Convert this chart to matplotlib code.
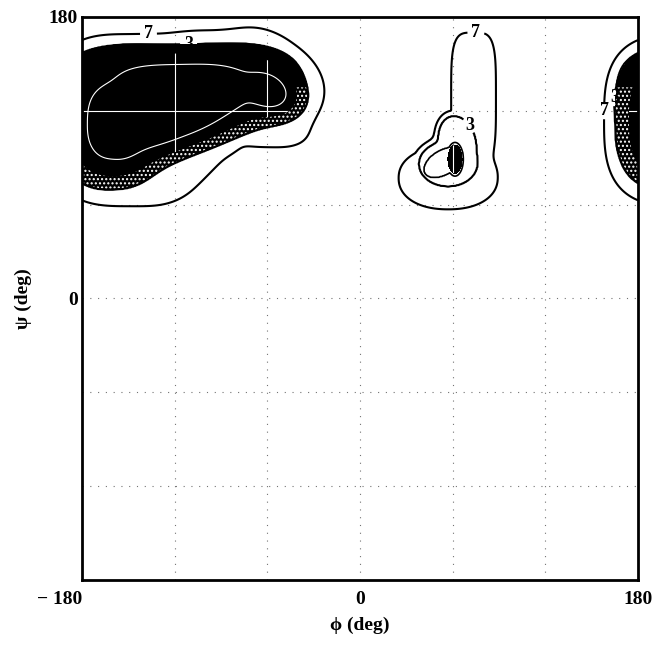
import numpy as np
import matplotlib
matplotlib.use("Agg")
import matplotlib.pyplot as plt
from matplotlib.patches import PathPatch

plt.rcParams['font.family'] = ['Liberation Serif', 'DejaVu Serif']
plt.rcParams['hatch.color'] = 'white'
plt.rcParams['hatch.linewidth'] = 1.0

# energy map rebuilt from wells (phi, psi in degrees)
# group 0 = deep basin (3 line), 1 = rim (7 line), 2 = beta 3 line, 3 = beta 2 line, 4 = beta core
well_phi  = [-120, -160, -116, -60,   -150, -60, -58, -95, -107, -95, 73.5, 57, 53,   57, 63,   54,   61.5]
well_psi  = [ 117,  112,  136, 133,    114, 138, 112, 115,   89, 145, 128,  77, 96,   86, 100,  87,   89]
half_phi  = [  68,   30,   72,  23,     52,  38,  24,  25,   30,  40, 14.5, 32, 20,   19, 12,   14,   6.6]
half_psi  = [  28,   40,   26,  17,     55,  30,  15,  25,   12,  26, 42,   20,  9, 14.5, 17,    8,  13.2]
tilt      = [20.6,    0,    0, -25,      0, -35,   0,   0,   40,   0,  0,    0, 47,    0, 15,   30,    0]
shape     = [ 2.5,  2.5,    3,   2,      3, 2.3,   3,   2,    2, 2.5,  4,  2.2,  2,    2,  2,    2,    2]
group     = [   0,    0,    0,   0,      1,   1,   1,   1,    1,   1,  1,    1,  1,    2,  2,    3,    4]

grp_floor = [0, 3.5, 2.9, 1.5, 0]
grp_edge  = [3, 7, 3, 2, 3]
grp_qin   = [3, 2, 2, 2, 2]
grp_qout  = [12, 2, 20, 30, 30]
grp_blend = [0.2, 0.12, 0.12, 0.12, 0.12]

line_levels = [3, 7]
lab_pos = [(-137, 171), (75, 167), (157, 120), (-111, 163), (69, 109), (171, 128)]

phi = np.linspace(-180, 180, 721)
psi = np.linspace(-180, 180, 721)
PHI, PSI = np.meshgrid(phi, psi)


def radius(i):
    dx = (PHI - well_phi[i] + 180) % 360 - 180
    dy = PSI - well_psi[i]
    t = np.radians(tilt[i])
    u = dx * np.cos(t) + dy * np.sin(t)
    v = -dx * np.sin(t) + dy * np.cos(t)
    m = shape[i]
    return (np.abs(u / half_phi[i]) ** m + np.abs(v / half_psi[i]) ** m) ** (1 / m)


def smin(stack, k):
    lo = stack.min(axis=0)
    return lo - k * np.log(np.exp(-(stack - lo) / k).sum(axis=0))


layers = []
for g in range(len(grp_floor)):
    rs = np.array([radius(i) for i in range(len(well_phi)) if group[i] == g])
    r = smin(rs, grp_blend[g])
    q = np.where(r < 1, grp_qin[g], grp_qout[g])
    layers.append(grp_floor[g] + (grp_edge[g] - grp_floor[g]) * r ** q)
layers.append(np.full_like(PHI, 12.0))
E = smin(np.array(layers), 0.1)

fig = plt.figure(figsize=(6.62, 6.45), dpi=100)
ax = fig.add_axes([0.1239, 0.1008, 0.8399, 0.8729])

grid = [-120, -60, 0, 60, 120]
for g in grid:
    ax.axvline(g, color='0.45', lw=0.8, ls=(0, (1, 6)), zorder=0.5)
    ax.axhline(g, color='0.45', lw=0.8, ls=(0, (1, 6)), zorder=0.5)

# dark shading: whole basin up to just under 3, only the core in the beta region
mid = (PHI > 0) & (PHI < 140)
shade = np.where(mid & (E > 1.4), 10, E)
ax.contourf(PHI, PSI, shade, levels=[-1, 2.85], colors='black', zorder=1)
inner = ax.contourf(PHI, PSI, E, levels=[-1, 1.4], colors='black', zorder=1)
# speckled band on the lower side of the basin
ax.contourf(PHI, PSI, np.ma.masked_where(mid | (PSI > 135), E), levels=[1.4, 2.85],
            colors='none', hatches=['....'], zorder=1.5)
ax.contour(PHI, PSI, np.ma.masked_where(PHI > 0, E), levels=[0.4], colors='white',
           linewidths=0.8, zorder=2)

clip = PathPatch(inner.get_paths()[0], transform=ax.transData)
for g in grid:
    for ln in (ax.axvline(g, color='white', lw=0.8, zorder=2),
               ax.axhline(g, color='white', lw=0.8, zorder=2)):
        ln.set_clip_path(clip)

cs = ax.contour(PHI, PSI, E, levels=line_levels, colors='black', linewidths=1.5, zorder=3)
box = (PHI > 20) & (PHI < 100) & (PSI > 60) & (PSI < 115)
ax.contour(PHI, PSI, np.ma.masked_where(~box, E), levels=[2], colors='black',
           linewidths=1.2, zorder=3)
txt = ax.clabel(cs, fmt='%d', fontsize=13, manual=lab_pos, inline=True, inline_spacing=4)
for t in txt:
    t.set_fontweight('bold')
    t.set_rotation(0)

ax.set_xlim(-180, 180)
ax.set_ylim(-180, 180)
ax.set_xticks([-180, 0, 180])
ax.set_xticklabels(['\u2212 180', '0', '180'], fontweight='bold')
ax.set_yticks([0, 180])
ax.set_yticklabels(['0', '180'], fontweight='bold')
ax.get_xticklabels()[0].set_horizontalalignment('right')
ax.tick_params(length=0, labelsize=14)
ax.tick_params(axis='x', pad=8)
ax.tick_params(axis='y', pad=3)
for s in ax.spines.values():
    s.set_linewidth(2.0)

ax.set_xlabel('\u03d5 (deg)', fontsize=14, fontweight='bold', labelpad=6)
ax.set_ylabel('\u03c8 (deg)', fontsize=14, fontweight='bold', labelpad=12)

fig.savefig('out.png', dpi=100)
